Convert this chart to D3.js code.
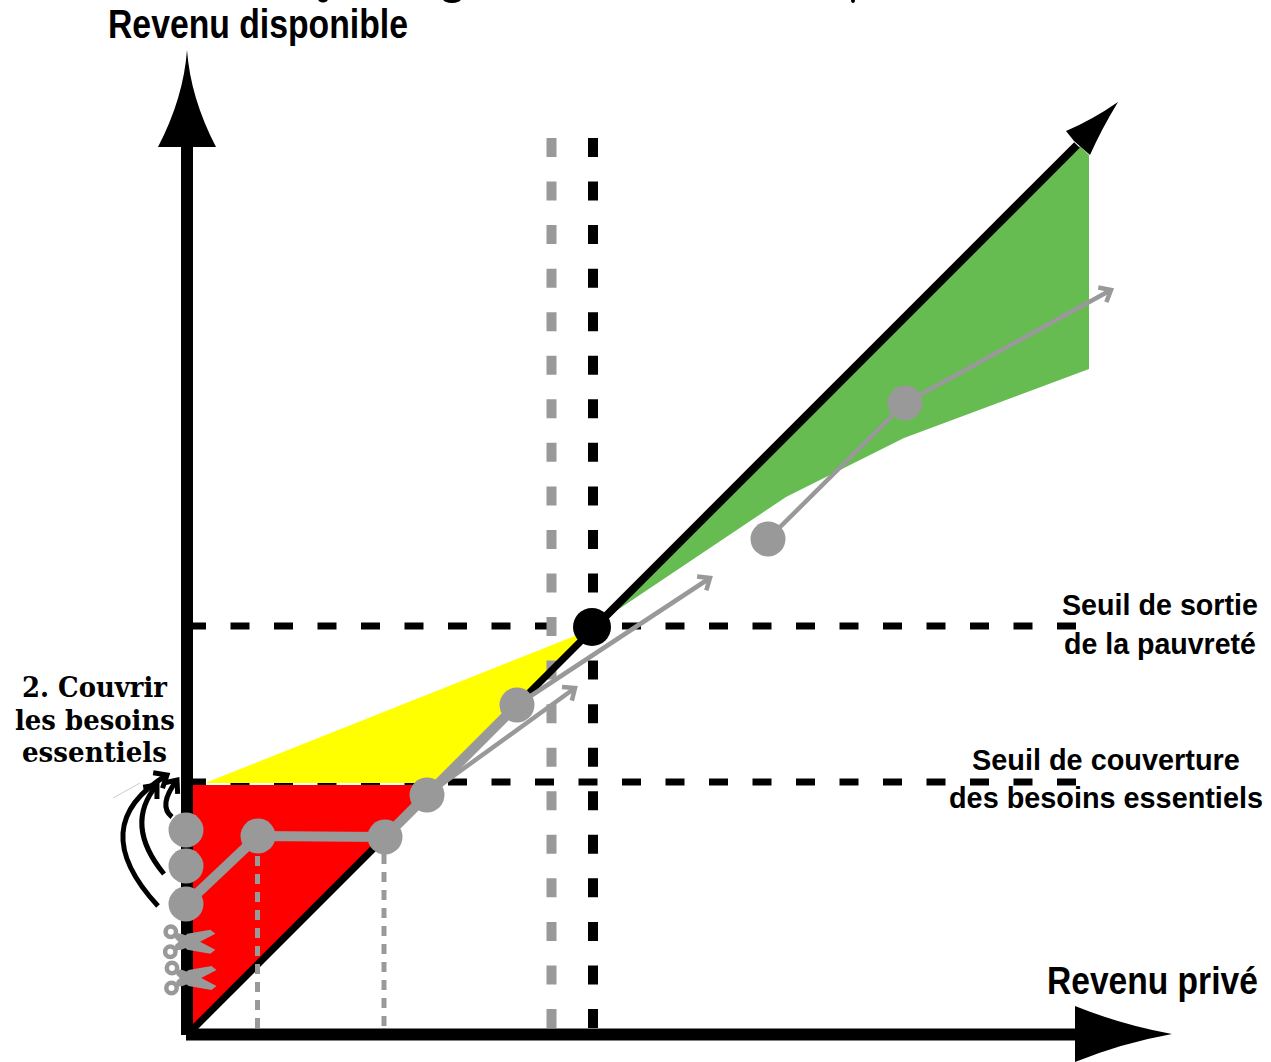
<!DOCTYPE html>
<html><head><meta charset="utf-8">
<script src="https://cdn.jsdelivr.net/npm/d3@7"></script>
<style>html,body{margin:0;padding:0;background:#fff}svg{display:block}</style>
</head><body><svg id="c" width="1271" height="1062"></svg>
<script>
// Values. Units: 1 unit of revenue on both axes, origin at the axes' crossing.
const diagonal = [[3,1],[405,403],[890,888]];
const redArea = [[3,248],[250,248],[3,3]];
const yellowArea = [[18,250],[403,403],[250,250]];
const greenArea = [[405,406],[893,887],[902,878],[902,664],[717,595],[599,536]];
const exitThreshold = 407;
const needsThreshold = 251;
const grayPoverty = 364.5;
const blackPoverty = 406;
const thickPath = [[-1,129],[71,197],[198,196],[240,238],[330,328]];
const thinSeg1 = [[240,238],[388,345]];
const thinSeg2 = [[330,328],[523,455]];
const thinSeg3 = [[581,494],[718,630],[924,743]];
const grayPoints = [[-1,203],[-1,167],[-1,129],[71,197],[198,196],[240,238],[330,328],[581,494],[718,630]];
const blackPoint = [405,406];
const dropLines = [[70.5,197,5],[197,196,7]];
const scissors = [[1.3,91.3],[2.5,55]];
const bendArrows = [
  [[-29,127],[-64,200],[-20,258]],
  [[-23,159],[-45,206],[-30,248]],
  [[-15,216],[-21,231],[-10,253]]
];
const titleTails = [[323,-1,5,3.5],[452,-1,9,4],[853,0,2,3]];
const labels = [
  ["Revenu disponible",108,38,300,40],
  ["Revenu privé",1047,994,211,39],
  ["Seuil de sortie",1062,615,196,29],
  ["de la pauvreté",1064,654,192,29],
  ["Seuil de couverture",972,770,268,29],
  ["des besoins essentiels",949,808,314,29]
];
const handLabels = [["2. Couvrir",22,697,145],["les besoins",15,730,160],["essentiels",22,762,145]];

const x = d3.scaleLinear().domain([0,1000]).range([187,1187]);
const y = d3.scaleLinear().domain([0,1000]).range([1033,33]);
const gray = "#999999";
const svg = d3.select("#c");
const line = d3.line().x(d=>x(d[0])).y(d=>y(d[1]));
const poly = (pts,fill)=>svg.append("path").attr("d",line(pts)+"Z").attr("fill",fill);
const stroke = (pts,col,w,dash)=>{const p=svg.append("path").attr("d",line(pts)).attr("fill","none").attr("stroke",col).attr("stroke-width",w);if(dash)p.attr("stroke-dasharray",dash);return p;};

// cropped title: only descenders remain at the top edge
svg.selectAll("ellipse.t").data(titleTails).join("ellipse").attr("class","t")
 .attr("cx",d=>d[0]).attr("cy",d=>d[1]).attr("rx",d=>d[2]).attr("ry",d=>d[3]).attr("fill","#000");

// horizontal thresholds (dash phase runs from the right end)
stroke([[889,exitThreshold],[5,exitThreshold]],"#000",7,"19 24.5");
stroke([[889,needsThreshold],[5,needsThreshold]],"#000",7,"19 24.5");

poly(greenArea,"#66bb51");
poly(yellowArea,"#ffff00");
poly(redArea,"#ff0000");

// vertical poverty lines
stroke([[blackPoverty,895],[blackPoverty,3]],"#000",10,"19 24.55");
stroke([[grayPoverty,895],[grayPoverty,3]],gray,10,"19 24.55");

// diagonal
stroke(diagonal.slice(0,2),"#000",7);
stroke(diagonal.slice(1),"#000",8);
const P=(a,b)=>`${x(a)},${y(b)}`;
svg.append("path").attr("fill","#000").attr("d",
 `M${P(931,931)}Q${P(905,913)} ${P(879,902)}L${P(887,892)}L${P(903,878)}Q${P(914,903)} ${P(931,931)}Z`);

// dropped dotted lines
dropLines.forEach(d=>stroke([[d[0],d[2]],[d[0],d[1]]],gray,5,"10 8"));

// axes
stroke([[0,-2],[0,886]],"#000",12);
stroke([[-1,-1.5],[888,-1.5]],"#000",12);
svg.append("path").attr("fill","#000").attr("d",
 `M${P(0,983)}Q${P(-3.5,935)} ${P(-29,886)}L${P(29,886)}Q${P(3.5,935)} ${P(0,983)}Z`);
svg.append("path").attr("fill","#000").attr("d",
 `M${P(985,-1)}Q${P(935,8)} ${P(888,27)}L${P(888,-29)}Q${P(935,-10)} ${P(985,-1)}Z`);

// thin grey arrows
function chevron(p,q,col,w,s){
  const ang=Math.atan2(y(q[1])-y(p[1]),x(q[0])-x(p[0]));
  const tx=x(q[0]),ty=y(q[1]);
  const pt=a=>[tx-s*Math.cos(ang+a),ty-s*Math.sin(ang+a)];
  svg.append("path").attr("fill","none").attr("stroke",col).attr("stroke-width",w)
   .attr("d",d3.line()([pt(0.7),[tx,ty],pt(-0.7)]));
}
stroke(thinSeg1,gray,4.5); chevron(thinSeg1[0],thinSeg1[1],gray,4.5,13);
stroke(thinSeg2,gray,4.5); chevron(thinSeg2[0],thinSeg2[1],gray,4.5,13);
stroke(thinSeg3,gray,4.5); chevron(thinSeg3[1],thinSeg3[2],gray,4.5,13);
stroke(thickPath,gray,10);

// scissors
scissors.forEach(s=>{
  const g=svg.append("g").attr("transform",`translate(${x(s[0])},${y(s[1])})`).attr("fill",gray);
  g.append("path").attr("d","M27,-8L22,-12L-1,-8L-13,3L-14,9L-7,8L6,3Z");
  g.append("path").attr("d","M27,8L22,12L-1,8L-13,-3L-14,-9L-7,-8L6,-3Z");
  [[-17.5,-10],[-18,10]].forEach(c=>g.append("circle").attr("cx",c[0]).attr("cy",c[1]).attr("r",5.2).attr("fill","none").attr("stroke",gray).attr("stroke-width",4.5));
});

// bend arrows
bendArrows.forEach(b=>{
  const [p0,c,p1]=b;
  const c2=[2*c[0]-(p0[0]+p1[0])/2,2*c[1]-(p0[1]+p1[1])/2];
  svg.append("path").attr("fill","none").attr("stroke","#000").attr("stroke-width",5)
   .attr("d",`M${P(p0[0],p0[1])}Q${P(c2[0],c2[1])} ${P(p1[0],p1[1])}`);
  chevron(c2,p1,"#000",5,14);
});
svg.append("path").attr("fill","none").attr("stroke","#ccc").attr("stroke-width",1)
 .attr("d",line([[-74,235],[-47,250]]));

// points
svg.selectAll("circle.g").data(grayPoints).join("circle").attr("class","g")
 .attr("cx",d=>x(d[0])).attr("cy",d=>y(d[1])).attr("r",17.5).attr("fill",gray);
svg.append("circle").attr("cx",x(blackPoint[0])).attr("cy",y(blackPoint[1])).attr("r",19).attr("fill","#000");

// text: fitted by a horizontal scale so the box is the real drawn width
function fit(t,tx,ty,w){
  const n=t.node().getComputedTextLength();
  t.attr("transform",`translate(${tx},${ty}) scale(${w/n},1)`);
}
labels.forEach(l=>{
  const t=svg.append("text").text(l[0]).attr("font-family","Liberation Sans, Arial, sans-serif")
   .attr("font-weight","bold").attr("font-size",l[4]).attr("fill","#000");
  fit(t,l[1],l[2],l[3]);
});
handLabels.forEach(l=>{
  const t=svg.append("text").text(l[0]).attr("font-family","DejaVu Serif, serif")
   .attr("font-weight","bold").attr("font-size",27).attr("fill","#000");
  fit(t,l[1],l[2],l[3]);
});
</script></body></html>
